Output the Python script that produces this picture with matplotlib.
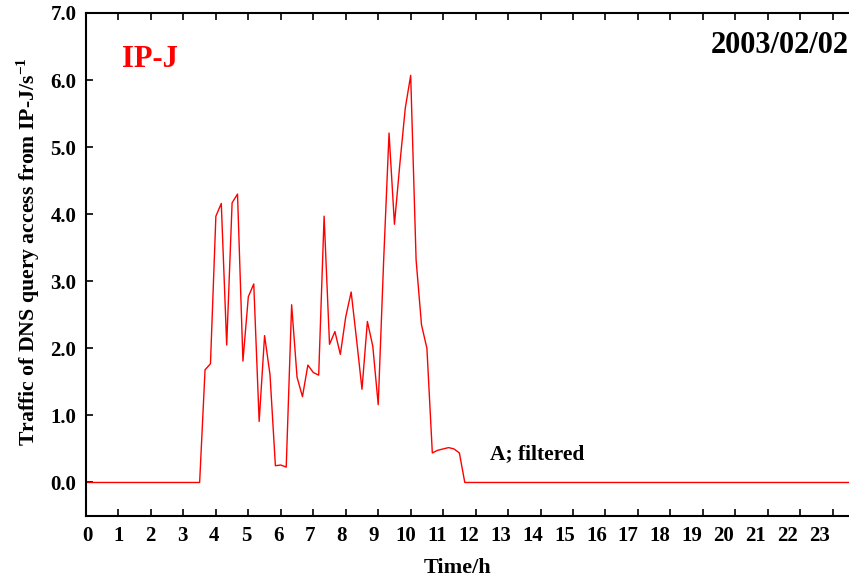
import matplotlib
matplotlib.use("Agg")
import matplotlib.pyplot as plt
from matplotlib.transforms import ScaledTranslation
import numpy as np

plt.rcParams['font.family'] = ['Liberation Serif', 'DejaVu Serif']
plt.rcParams['font.weight'] = 'bold'
plt.rcParams['mathtext.fontset'] = 'custom'
plt.rcParams['mathtext.rm'] = 'Liberation Serif:bold'
plt.rcParams['mathtext.bf'] = 'Liberation Serif:bold'

# 10-minute samples over the day (hours)
step_h = 1.0 / 6.0
leading_zeros = [0.0] * 21          # 0:00 .. 3:20
active = [0.0, 1.68, 1.77, 3.97, 4.16, 2.05, 4.17, 4.30, 1.81, 2.77,
          2.96, 0.91, 2.19, 1.61, 0.25, 0.26, 0.23, 2.65, 1.57, 1.28,
          1.75, 1.64, 1.60, 3.97, 2.06, 2.25, 1.91, 2.47, 2.84, 2.13,
          1.39, 2.40, 2.03, 1.16, 3.30, 5.21, 3.85, 4.75, 5.58, 6.07,
          3.32, 2.35, 2.00, 0.44, 0.48, 0.50, 0.52, 0.50, 0.44, 0.0]
trailing_zeros = [0.0] * 74         # 11:50 .. 23:50
traffic = leading_zeros + active + trailing_zeros
times = [i * step_h for i in range(len(traffic))]

x_ticks = list(range(0, 24))
y_ticks = [0.0, 1.0, 2.0, 3.0, 4.0, 5.0, 6.0, 7.0]

fig = plt.figure(figsize=(8.49, 5.79), dpi=100)
ax = fig.add_axes([86/849, 1 - 516/579, 1 - 86/849, (516 - 13)/579])
ax.plot(times, traffic, color='red', lw=1.0)

ax.set_xlim(0, 23.5)
ax.set_ylim(-0.5, 7.0)
ax.set_xticks(x_ticks)
ax.set_xticklabels([str(t) for t in x_ticks])
ax.set_yticks(y_ticks)
ax.set_yticklabels([f"{v:.1f}" for v in y_ticks])
ax.spines['right'].set_visible(False)
for s in ['left', 'top', 'bottom']:
    ax.spines[s].set_linewidth(1.5)
ax.tick_params(axis='x', direction='in', top=True, bottom=True, length=5, width=1.2,
               labelsize=15, pad=7)
ax.tick_params(axis='y', direction='in', left=True, right=False, length=5, width=1.2,
               labelsize=15, pad=7)
for i, lab in enumerate(ax.get_xticklabels()):
    lab.set_fontweight('bold')
    # reference labels are laid out on a slightly tighter pitch than the ticks
    lab.set_transform(lab.get_transform() +
                      ScaledTranslation((1.0 - 0.63 * i) / 100.0, 0, fig.dpi_scale_trans))
for lab in ax.get_yticklabels():
    lab.set_fontweight('bold')

ax.set_xlabel('Time/h', fontsize=16, fontweight='bold', labelpad=9)
ax.xaxis.label.set_x(0.4875)
ax.set_ylabel('Traffic of DNS query access from IP-J/s$^{\\mathbf{-1}}$', fontsize=15.7,
              fontweight='bold')
ax.yaxis.set_label_coords(-0.0577, 0.526)

ax.text(1.97, 6.3, 'IP-J', color='red', fontsize=22, fontweight='bold',
        ha='center', va='center')
ax.text(1.0, 0.936, '2003/02/02', transform=ax.transAxes, fontsize=22,
        fontweight='bold', ha='right', va='center')
ax.text(12.45, 0.42, 'A; filtered', fontsize=15.5, fontweight='bold',
        ha='left', va='center')

fig.savefig('out.png', dpi=100)
